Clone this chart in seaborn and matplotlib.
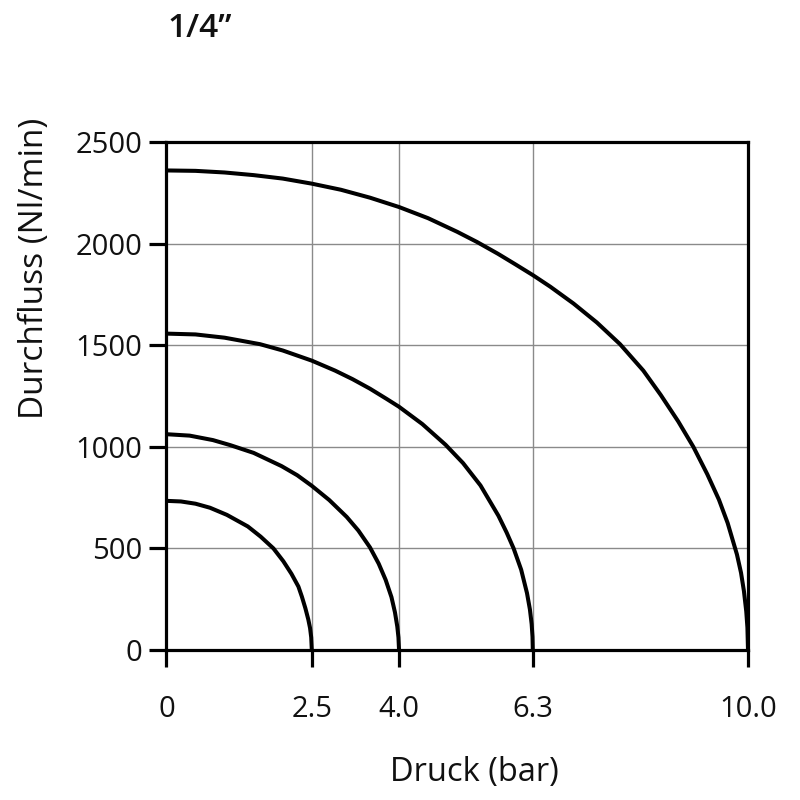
import numpy as np
import pandas as pd
import matplotlib
matplotlib.use("Agg")
import matplotlib.pyplot as plt
import seaborn as sns

# ---- data ----
title_text = "1/4\u201d"
x_label = "Druck (bar)"
y_label = "Durchfluss (Nl/min)"

x_ticks = [0, 2.5, 4.0, 6.3, 10.0]
x_tick_labels = ["0", "2.5", "4.0", "6.3", "10.0"]
y_ticks = [0, 500, 1000, 1500, 2000, 2500]

# curve ending at 2.5 bar
p_25 = [0, 0.25, 0.5, 0.75, 1.04, 1.4, 1.62, 1.84, 2.01, 2.15, 2.27, 2.33, 2.39, 2.44, 2.47, 2.49, 2.5]
q_25 = [734, 731, 720, 700, 665, 608, 558, 500, 437, 375, 312, 262, 205, 150, 108, 62, 0]

# curve ending at 4.0 bar
p_40 = [0, 0.4, 0.8, 1.1, 1.5, 1.98, 2.25, 2.5, 2.8, 3.1, 3.3, 3.5, 3.65, 3.77, 3.87, 3.93, 3.97, 3.99, 4.0]
q_40 = [1062, 1055, 1033, 1008, 970, 905, 860, 808, 738, 655, 588, 505, 425, 345, 260, 185, 115, 62, 0]

# curve ending at 6.3 bar
p_63 = [0, 0.5, 1.0, 1.61, 2.0, 2.5, 2.9, 3.2, 3.5, 3.79, 4.0, 4.4, 4.8, 5.1, 5.4,
        5.71, 5.85, 5.97, 6.1, 6.2, 6.25, 6.28, 6.295, 6.3]
q_63 = [1557, 1553, 1537, 1505, 1474, 1424, 1375, 1333, 1286, 1235, 1197, 1112, 1010, 920, 810,
        660, 578, 500, 395, 280, 200, 128, 65, 0]

# curve ending at 10.0 bar
p_100 = [0, 0.5, 1.0, 1.5, 2.0, 2.5, 3.0, 3.5, 4.0, 4.5, 5.0, 5.34, 5.7, 6.0, 6.3, 6.6,
         7.0, 7.4, 7.8, 8.2, 8.5, 8.8, 9.06, 9.3, 9.5, 9.65, 9.81, 9.88, 9.93, 9.97, 9.99, 10.0]
q_100 = [2360, 2358, 2350, 2337, 2320, 2295, 2265, 2226, 2180, 2125, 2058, 2008, 1950, 1898, 1845, 1788,
         1705, 1612, 1505, 1375, 1255, 1125, 1000, 865, 740, 625, 470, 380, 290, 190, 110, 0]

curve_names = ["2.5", "4.0", "6.3", "10.0"]
curve_p = [p_25, p_40, p_63, p_100]
curve_q = [q_25, q_40, q_63, q_100]

frames = []
for name, p, q in zip(curve_names, curve_p, curve_q):
    frames.append(pd.DataFrame({"pressure": p, "flow": q, "curve": name}))
df = pd.concat(frames, ignore_index=True)

# ---- styling ----
sns.set_theme(style="white")
plt.rcParams["font.family"] = ["Open Sans", "DejaVu Sans"]

fig = plt.figure(figsize=(8, 8), dpi=100)
ax = fig.add_axes([0.208, 0.1875, 0.727, 0.635])

sns.lineplot(data=df, x="pressure", y="flow", units="curve", estimator=None,
             sort=False, color="black", linewidth=2.9, ax=ax, zorder=3)
for ln in ax.get_lines():
    ln.set_solid_joinstyle("round")
    ln.set_solid_capstyle("butt")

ax.set_xlim(0, 10)
ax.set_ylim(0, 2500)
ax.set_xticks(x_ticks)
ax.set_xticklabels(x_tick_labels)
ax.set_yticks(y_ticks)

ax.grid(True, color="#8a8a8a", linewidth=1.0, zorder=0)
ax.set_axisbelow(True)

for s in ax.spines.values():
    s.set_visible(True)
    s.set_color("black")
    s.set_linewidth(2.3)

ax.tick_params(axis="both", which="major", direction="out", length=12.5,
               width=2.3, color="black", labelsize=21, labelcolor="#111111",
               bottom=True, left=True)
ax.tick_params(axis="x", pad=20)
ax.tick_params(axis="y", pad=5)

ax.set_xlabel(x_label, fontsize=23.5, color="#111111", va="center")
ax.xaxis.set_label_coords(0.53, -0.242)
ax.set_ylabel(y_label, fontsize=24, color="#111111", va="center")
ax.yaxis.set_label_coords(-0.226, 0.752)

fig.text(0.21, 0.954, title_text, fontsize=24, fontweight="semibold",
         color="#111111", ha="left", va="baseline")

fig.savefig("out.png", dpi=100)
